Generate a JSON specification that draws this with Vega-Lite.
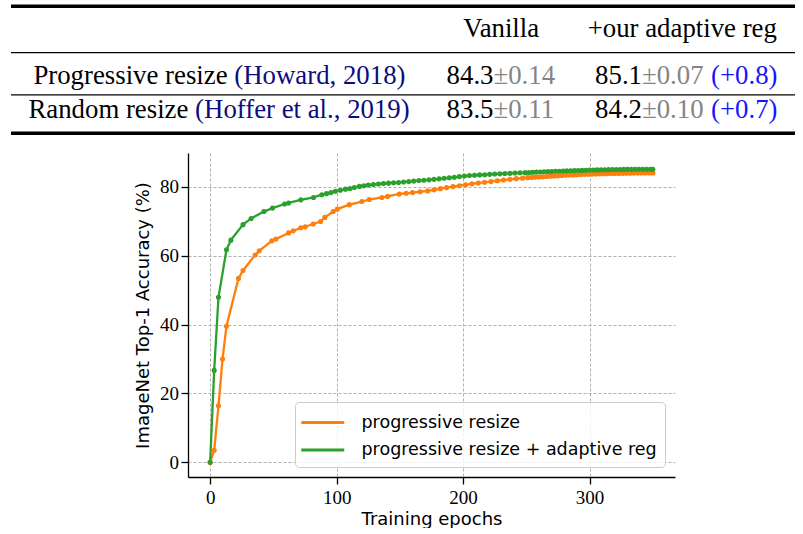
{
  "$schema": "https://vega.github.io/schema/vega-lite/v6.json",
  "background": "white",
  "padding": {"left": 9, "top": 0, "right": 10, "bottom": 0},
  "spacing": 12,
  "resolve": {"scale": {"color": "independent"}, "legend": {"color": "independent"}},
  "config": {"view": {"stroke": null}},
  "datasets": {
    "cells": [
      {"row": "header", "column": "Vanilla", "part": "header", "text": "Vanilla"},
      {"row": "header", "column": "+our adaptive reg", "part": "header", "text": "+our adaptive reg"},
      {"row": "Progressive", "column": "Method", "part": "value", "text": "Progressive resize"},
      {"row": "Progressive", "column": "Method", "part": "citation", "text": "(Howard, 2018)"},
      {"row": "Progressive", "column": "Vanilla", "part": "value", "text": "84.3"},
      {"row": "Progressive", "column": "Vanilla", "part": "std", "text": "±0.14"},
      {"row": "Progressive", "column": "+our adaptive reg", "part": "value", "text": "85.1"},
      {"row": "Progressive", "column": "+our adaptive reg", "part": "std", "text": "±0.07"},
      {"row": "Progressive", "column": "+our adaptive reg", "part": "gain", "text": "(+0.8)"},
      {"row": "Random", "column": "Method", "part": "value", "text": "Random resize"},
      {"row": "Random", "column": "Method", "part": "citation", "text": "(Hoffer et al., 2019)"},
      {"row": "Random", "column": "Vanilla", "part": "value", "text": "83.5"},
      {"row": "Random", "column": "Vanilla", "part": "std", "text": "±0.11"},
      {"row": "Random", "column": "+our adaptive reg", "part": "value", "text": "84.2"},
      {"row": "Random", "column": "+our adaptive reg", "part": "std", "text": "±0.10"},
      {"row": "Random", "column": "+our adaptive reg", "part": "gain", "text": "(+0.7)"}
    ],
    "rules": [
      {"row": "top", "weight": "thick"},
      {"row": "head", "weight": "thin"},
      {"row": "sep", "weight": "thin"},
      {"row": "bottom", "weight": "thick"}
    ],
    "curves": [
      {"run": "progressive resize", "epoch": 0, "accuracy": 0},
      {"run": "progressive resize", "epoch": 3.2, "accuracy": 3.5},
      {"run": "progressive resize", "epoch": 6.6, "accuracy": 16.4},
      {"run": "progressive resize", "epoch": 9.8, "accuracy": 30},
      {"run": "progressive resize", "epoch": 12.9, "accuracy": 39.5},
      {"run": "progressive resize", "epoch": 22.4, "accuracy": 53.4},
      {"run": "progressive resize", "epoch": 26, "accuracy": 55.7},
      {"run": "progressive resize", "epoch": 35.6, "accuracy": 60.2},
      {"run": "progressive resize", "epoch": 38.8, "accuracy": 61.4},
      {"run": "progressive resize", "epoch": 48.8, "accuracy": 64.3},
      {"run": "progressive resize", "epoch": 52, "accuracy": 64.8},
      {"run": "progressive resize", "epoch": 62, "accuracy": 66.6},
      {"run": "progressive resize", "epoch": 65.7, "accuracy": 67.2},
      {"run": "progressive resize", "epoch": 71.7, "accuracy": 68.1},
      {"run": "progressive resize", "epoch": 75.2, "accuracy": 68.4},
      {"run": "progressive resize", "epoch": 81.5, "accuracy": 69.2},
      {"run": "progressive resize", "epoch": 87.3, "accuracy": 69.9},
      {"run": "progressive resize", "epoch": 90.7, "accuracy": 71.1},
      {"run": "progressive resize", "epoch": 97.3, "accuracy": 72.8},
      {"run": "progressive resize", "epoch": 100.5, "accuracy": 73.5},
      {"run": "progressive resize", "epoch": 110, "accuracy": 74.8},
      {"run": "progressive resize", "epoch": 120, "accuracy": 75.7},
      {"run": "progressive resize", "epoch": 125.8, "accuracy": 76.3},
      {"run": "progressive resize", "epoch": 135.8, "accuracy": 76.9},
      {"run": "progressive resize", "epoch": 140.3, "accuracy": 77.2},
      {"run": "progressive resize", "epoch": 149.5, "accuracy": 77.9},
      {"run": "progressive resize", "epoch": 155, "accuracy": 78.1},
      {"run": "progressive resize", "epoch": 160, "accuracy": 78.3},
      {"run": "progressive resize", "epoch": 166, "accuracy": 78.55},
      {"run": "progressive resize", "epoch": 172, "accuracy": 78.8},
      {"run": "progressive resize", "epoch": 177, "accuracy": 79.1},
      {"run": "progressive resize", "epoch": 182, "accuracy": 79.45},
      {"run": "progressive resize", "epoch": 187, "accuracy": 79.75},
      {"run": "progressive resize", "epoch": 192, "accuracy": 80.05},
      {"run": "progressive resize", "epoch": 197, "accuracy": 80.3},
      {"run": "progressive resize", "epoch": 202, "accuracy": 80.6},
      {"run": "progressive resize", "epoch": 207, "accuracy": 80.85},
      {"run": "progressive resize", "epoch": 212, "accuracy": 81.1},
      {"run": "progressive resize", "epoch": 217, "accuracy": 81.3},
      {"run": "progressive resize", "epoch": 222, "accuracy": 81.5},
      {"run": "progressive resize", "epoch": 227, "accuracy": 81.75},
      {"run": "progressive resize", "epoch": 232, "accuracy": 81.95},
      {"run": "progressive resize", "epoch": 237, "accuracy": 82.15},
      {"run": "progressive resize", "epoch": 242, "accuracy": 82.35},
      {"run": "progressive resize", "epoch": 247, "accuracy": 82.5},
      {"run": "progressive resize", "epoch": 251, "accuracy": 82.65},
      {"run": "progressive resize", "epoch": 254, "accuracy": 82.72},
      {"run": "progressive resize", "epoch": 257, "accuracy": 82.8},
      {"run": "progressive resize", "epoch": 260, "accuracy": 82.85},
      {"run": "progressive resize", "epoch": 263, "accuracy": 82.9},
      {"run": "progressive resize", "epoch": 266, "accuracy": 83.0},
      {"run": "progressive resize", "epoch": 269, "accuracy": 83.08},
      {"run": "progressive resize", "epoch": 272, "accuracy": 83.15},
      {"run": "progressive resize", "epoch": 275, "accuracy": 83.2},
      {"run": "progressive resize", "epoch": 278, "accuracy": 83.28},
      {"run": "progressive resize", "epoch": 281, "accuracy": 83.33},
      {"run": "progressive resize", "epoch": 284, "accuracy": 83.4},
      {"run": "progressive resize", "epoch": 287, "accuracy": 83.45},
      {"run": "progressive resize", "epoch": 290, "accuracy": 83.5},
      {"run": "progressive resize", "epoch": 293, "accuracy": 83.55},
      {"run": "progressive resize", "epoch": 296, "accuracy": 83.6},
      {"run": "progressive resize", "epoch": 299, "accuracy": 83.64},
      {"run": "progressive resize", "epoch": 302, "accuracy": 83.68},
      {"run": "progressive resize", "epoch": 305, "accuracy": 83.72},
      {"run": "progressive resize", "epoch": 308, "accuracy": 83.75},
      {"run": "progressive resize", "epoch": 311, "accuracy": 83.78},
      {"run": "progressive resize", "epoch": 314, "accuracy": 83.8},
      {"run": "progressive resize", "epoch": 317, "accuracy": 83.83},
      {"run": "progressive resize", "epoch": 320, "accuracy": 83.85},
      {"run": "progressive resize", "epoch": 323, "accuracy": 83.88},
      {"run": "progressive resize", "epoch": 326, "accuracy": 83.9},
      {"run": "progressive resize", "epoch": 329, "accuracy": 83.92},
      {"run": "progressive resize", "epoch": 332, "accuracy": 83.94},
      {"run": "progressive resize", "epoch": 335, "accuracy": 83.96},
      {"run": "progressive resize", "epoch": 338, "accuracy": 83.97},
      {"run": "progressive resize", "epoch": 341, "accuracy": 83.98},
      {"run": "progressive resize", "epoch": 344, "accuracy": 84.0},
      {"run": "progressive resize", "epoch": 347, "accuracy": 84.0},
      {"run": "progressive resize", "epoch": 350, "accuracy": 84.02},
      {"run": "progressive resize + adaptive reg", "epoch": 0, "accuracy": 0},
      {"run": "progressive resize + adaptive reg", "epoch": 3.2, "accuracy": 26.7},
      {"run": "progressive resize + adaptive reg", "epoch": 6.6, "accuracy": 47.9},
      {"run": "progressive resize + adaptive reg", "epoch": 12.9, "accuracy": 61.7},
      {"run": "progressive resize + adaptive reg", "epoch": 16.4, "accuracy": 64.5},
      {"run": "progressive resize + adaptive reg", "epoch": 26, "accuracy": 69},
      {"run": "progressive resize + adaptive reg", "epoch": 32.4, "accuracy": 70.8},
      {"run": "progressive resize + adaptive reg", "epoch": 42.5, "accuracy": 72.8},
      {"run": "progressive resize + adaptive reg", "epoch": 49.3, "accuracy": 73.8},
      {"run": "progressive resize + adaptive reg", "epoch": 58.8, "accuracy": 75},
      {"run": "progressive resize + adaptive reg", "epoch": 62, "accuracy": 75.3},
      {"run": "progressive resize + adaptive reg", "epoch": 71.7, "accuracy": 76.2},
      {"run": "progressive resize + adaptive reg", "epoch": 81.7, "accuracy": 76.9},
      {"run": "progressive resize + adaptive reg", "epoch": 88.3, "accuracy": 77.7},
      {"run": "progressive resize + adaptive reg", "epoch": 92, "accuracy": 78.0},
      {"run": "progressive resize + adaptive reg", "epoch": 95.5, "accuracy": 78.3},
      {"run": "progressive resize + adaptive reg", "epoch": 99, "accuracy": 78.7},
      {"run": "progressive resize + adaptive reg", "epoch": 103, "accuracy": 79.0},
      {"run": "progressive resize + adaptive reg", "epoch": 107, "accuracy": 79.3},
      {"run": "progressive resize + adaptive reg", "epoch": 110.5, "accuracy": 79.5},
      {"run": "progressive resize + adaptive reg", "epoch": 114, "accuracy": 79.8},
      {"run": "progressive resize + adaptive reg", "epoch": 118, "accuracy": 80.1},
      {"run": "progressive resize + adaptive reg", "epoch": 121.5, "accuracy": 80.3},
      {"run": "progressive resize + adaptive reg", "epoch": 125, "accuracy": 80.5},
      {"run": "progressive resize + adaptive reg", "epoch": 129, "accuracy": 80.65},
      {"run": "progressive resize + adaptive reg", "epoch": 133, "accuracy": 80.8},
      {"run": "progressive resize + adaptive reg", "epoch": 137, "accuracy": 80.95},
      {"run": "progressive resize + adaptive reg", "epoch": 141, "accuracy": 81.05},
      {"run": "progressive resize + adaptive reg", "epoch": 145, "accuracy": 81.15},
      {"run": "progressive resize + adaptive reg", "epoch": 149, "accuracy": 81.25},
      {"run": "progressive resize + adaptive reg", "epoch": 153, "accuracy": 81.4},
      {"run": "progressive resize + adaptive reg", "epoch": 157, "accuracy": 81.5},
      {"run": "progressive resize + adaptive reg", "epoch": 161, "accuracy": 81.65},
      {"run": "progressive resize + adaptive reg", "epoch": 165, "accuracy": 81.8},
      {"run": "progressive resize + adaptive reg", "epoch": 169, "accuracy": 81.9},
      {"run": "progressive resize + adaptive reg", "epoch": 173, "accuracy": 82.0},
      {"run": "progressive resize + adaptive reg", "epoch": 177, "accuracy": 82.15},
      {"run": "progressive resize + adaptive reg", "epoch": 181, "accuracy": 82.3},
      {"run": "progressive resize + adaptive reg", "epoch": 185, "accuracy": 82.45},
      {"run": "progressive resize + adaptive reg", "epoch": 189, "accuracy": 82.6},
      {"run": "progressive resize + adaptive reg", "epoch": 193, "accuracy": 82.75},
      {"run": "progressive resize + adaptive reg", "epoch": 197, "accuracy": 82.95},
      {"run": "progressive resize + adaptive reg", "epoch": 201, "accuracy": 83.1},
      {"run": "progressive resize + adaptive reg", "epoch": 205, "accuracy": 83.25},
      {"run": "progressive resize + adaptive reg", "epoch": 209, "accuracy": 83.35},
      {"run": "progressive resize + adaptive reg", "epoch": 213, "accuracy": 83.45},
      {"run": "progressive resize + adaptive reg", "epoch": 217, "accuracy": 83.5},
      {"run": "progressive resize + adaptive reg", "epoch": 221, "accuracy": 83.6},
      {"run": "progressive resize + adaptive reg", "epoch": 225, "accuracy": 83.7},
      {"run": "progressive resize + adaptive reg", "epoch": 229, "accuracy": 83.75},
      {"run": "progressive resize + adaptive reg", "epoch": 233, "accuracy": 83.85},
      {"run": "progressive resize + adaptive reg", "epoch": 237, "accuracy": 83.9},
      {"run": "progressive resize + adaptive reg", "epoch": 241, "accuracy": 84.0},
      {"run": "progressive resize + adaptive reg", "epoch": 245, "accuracy": 84.05},
      {"run": "progressive resize + adaptive reg", "epoch": 249, "accuracy": 84.1},
      {"run": "progressive resize + adaptive reg", "epoch": 252, "accuracy": 84.15},
      {"run": "progressive resize + adaptive reg", "epoch": 255, "accuracy": 84.2},
      {"run": "progressive resize + adaptive reg", "epoch": 258, "accuracy": 84.25},
      {"run": "progressive resize + adaptive reg", "epoch": 261, "accuracy": 84.3},
      {"run": "progressive resize + adaptive reg", "epoch": 264, "accuracy": 84.35},
      {"run": "progressive resize + adaptive reg", "epoch": 267, "accuracy": 84.4},
      {"run": "progressive resize + adaptive reg", "epoch": 270, "accuracy": 84.45},
      {"run": "progressive resize + adaptive reg", "epoch": 273, "accuracy": 84.5},
      {"run": "progressive resize + adaptive reg", "epoch": 276, "accuracy": 84.52},
      {"run": "progressive resize + adaptive reg", "epoch": 279, "accuracy": 84.55},
      {"run": "progressive resize + adaptive reg", "epoch": 282, "accuracy": 84.6},
      {"run": "progressive resize + adaptive reg", "epoch": 285, "accuracy": 84.65},
      {"run": "progressive resize + adaptive reg", "epoch": 288, "accuracy": 84.68},
      {"run": "progressive resize + adaptive reg", "epoch": 291, "accuracy": 84.72},
      {"run": "progressive resize + adaptive reg", "epoch": 294, "accuracy": 84.75},
      {"run": "progressive resize + adaptive reg", "epoch": 297, "accuracy": 84.8},
      {"run": "progressive resize + adaptive reg", "epoch": 300, "accuracy": 84.85},
      {"run": "progressive resize + adaptive reg", "epoch": 303, "accuracy": 84.88},
      {"run": "progressive resize + adaptive reg", "epoch": 306, "accuracy": 84.9},
      {"run": "progressive resize + adaptive reg", "epoch": 309, "accuracy": 84.93},
      {"run": "progressive resize + adaptive reg", "epoch": 312, "accuracy": 84.95},
      {"run": "progressive resize + adaptive reg", "epoch": 315, "accuracy": 84.97},
      {"run": "progressive resize + adaptive reg", "epoch": 318, "accuracy": 85.0},
      {"run": "progressive resize + adaptive reg", "epoch": 321, "accuracy": 85.0},
      {"run": "progressive resize + adaptive reg", "epoch": 324, "accuracy": 85.02},
      {"run": "progressive resize + adaptive reg", "epoch": 327, "accuracy": 85.04},
      {"run": "progressive resize + adaptive reg", "epoch": 330, "accuracy": 85.05},
      {"run": "progressive resize + adaptive reg", "epoch": 333, "accuracy": 85.06},
      {"run": "progressive resize + adaptive reg", "epoch": 336, "accuracy": 85.07},
      {"run": "progressive resize + adaptive reg", "epoch": 339, "accuracy": 85.08},
      {"run": "progressive resize + adaptive reg", "epoch": 342, "accuracy": 85.09},
      {"run": "progressive resize + adaptive reg", "epoch": 345, "accuracy": 85.1},
      {"run": "progressive resize + adaptive reg", "epoch": 348, "accuracy": 85.1},
      {"run": "progressive resize + adaptive reg", "epoch": 350, "accuracy": 85.1}
    ]
  },
  "vconcat": [
    {
      "width": 784,
      "height": 140,
      "data": {"name": "cells"},
      "encoding": {
        "x": {"field": "column", "type": "nominal", "axis": null,
              "scale": {"type": "point", "domain": ["Method", "Vanilla", "+our adaptive reg"], "range": [334, 631], "padding": 0}},
        "y": {"field": "row", "type": "nominal", "axis": null,
              "scale": {"type": "point", "domain": ["top", "header", "head", "Progressive", "sep", "Random", "bottom"], "range": [6.3, 133.3], "padding": 0}},
        "text": {"field": "text"},
        "color": {"field": "part", "type": "nominal", "legend": null,
                  "scale": {"domain": ["header", "value", "citation", "std", "gain"], "range": ["#000000", "#000000", "#0c0c80", "#858585", "#1515ff"]}}
      },
      "layer": [
        {
          "data": {"name": "rules"},
          "transform": [{"filter": "datum.weight === 'thick'"}],
          "mark": {"type": "rule", "color": "black", "strokeWidth": 3.5},
          "encoding": {"x": null, "text": null, "color": null}
        },
        {
          "data": {"name": "rules"},
          "transform": [{"filter": "datum.weight === 'thin'"}],
          "mark": {"type": "rule", "color": "black", "strokeWidth": 1.3, "yOffset": 4},
          "encoding": {"x": null, "text": null, "color": null}
        },
        {
          "transform": [{"filter": "datum.row === 'header' && datum.column === 'Vanilla'"}],
          "mark": {"type": "text", "font": "Liberation Serif", "fontSize": 26.8, "align": "center", "baseline": "alphabetic", "dx": 7.7, "dy": 9.8}
        },
        {
          "transform": [{"filter": "datum.row === 'header' && datum.column === '+our adaptive reg'"}],
          "mark": {"type": "text", "font": "Liberation Serif", "fontSize": 26.8, "align": "center", "baseline": "alphabetic", "dx": 40.3, "dy": 9.8}
        },
        {
          "transform": [{"filter": "datum.row === 'Progressive' && datum.column === 'Method' && datum.part === 'value'"}],
          "mark": {"type": "text", "font": "Liberation Serif", "fontSize": 26.8, "align": "right", "baseline": "alphabetic", "dx": -117.4, "dy": 14.2}
        },
        {
          "transform": [{"filter": "datum.row === 'Progressive' && datum.part === 'citation'"}],
          "mark": {"type": "text", "font": "Liberation Serif", "fontSize": 26.8, "align": "left", "baseline": "alphabetic", "dx": -110.7, "dy": 14.2}
        },
        {
          "transform": [{"filter": "datum.row === 'Progressive' && datum.column !== 'Method' && datum.part === 'value'"}],
          "mark": {"type": "text", "font": "Liberation Serif", "fontSize": 26.8, "align": "right", "baseline": "alphabetic", "dy": 14.2}
        },
        {
          "transform": [{"filter": "datum.row === 'Progressive' && datum.part === 'std'"}],
          "mark": {"type": "text", "font": "Liberation Serif", "fontSize": 26.8, "align": "left", "baseline": "alphabetic", "dy": 14.2}
        },
        {
          "transform": [{"filter": "datum.row === 'Progressive' && datum.part === 'gain'"}],
          "mark": {"type": "text", "font": "Liberation Serif", "fontSize": 26.8, "align": "left", "baseline": "alphabetic", "dx": 69, "dy": 14.2}
        },
        {
          "transform": [{"filter": "datum.row === 'Random' && datum.column === 'Method' && datum.part === 'value'"}],
          "mark": {"type": "text", "font": "Liberation Serif", "fontSize": 26.8, "align": "right", "baseline": "alphabetic", "dx": -156.6, "dy": 6.2}
        },
        {
          "transform": [{"filter": "datum.row === 'Random' && datum.part === 'citation'"}],
          "mark": {"type": "text", "font": "Liberation Serif", "fontSize": 26.8, "align": "left", "baseline": "alphabetic", "dx": -149.9, "dy": 6.2}
        },
        {
          "transform": [{"filter": "datum.row === 'Random' && datum.column !== 'Method' && datum.part === 'value'"}],
          "mark": {"type": "text", "font": "Liberation Serif", "fontSize": 26.8, "align": "right", "baseline": "alphabetic", "dy": 6.2}
        },
        {
          "transform": [{"filter": "datum.row === 'Random' && datum.part === 'std'"}],
          "mark": {"type": "text", "font": "Liberation Serif", "fontSize": 26.8, "align": "left", "baseline": "alphabetic", "dy": 6.2}
        },
        {
          "transform": [{"filter": "datum.row === 'Random' && datum.part === 'gain'"}],
          "mark": {"type": "text", "font": "Liberation Serif", "fontSize": 26.8, "align": "left", "baseline": "alphabetic", "dx": 69, "dy": 6.2}
        }
      ]
    },
    {
      "spacing": 0,
      "resolve": {"scale": {"color": "independent"}, "legend": {"color": "independent"}},
      "hconcat": [
        {
          "width": 123,
          "height": 10,
          "data": {"values": [{"blank": ""}]},
          "mark": {"type": "text"},
          "encoding": {"text": {"field": "blank"}}
        },
        {
          "width": 487,
          "height": 324,
          "data": {"name": "curves"},
          "encoding": {
            "x": {"field": "epoch", "type": "quantitative",
                  "scale": {"domain": [-17.5, 367.5], "nice": false, "zero": false},
                  "axis": {"values": [0, 100, 200, 300], "format": "d", "title": "Training epochs",
                           "grid": true, "gridDash": [3, 2], "gridColor": "#b0b0b0", "gridWidth": 1,
                           "domainColor": "black", "domainWidth": 1.3, "tickColor": "black", "tickWidth": 1.3, "tickSize": 7,
                           "labelFont": "Liberation Serif", "labelFontSize": 19, "labelColor": "black", "labelPadding": 4,
                           "titleFont": "DejaVu Sans", "titleFontSize": 18, "titleFontWeight": "normal", "titleColor": "black", "titlePadding": 3}},
            "y": {"field": "accuracy", "type": "quantitative",
                  "scale": {"domain": [-4.25, 89.8], "nice": false, "zero": false},
                  "axis": {"values": [0, 20, 40, 60, 80], "format": "d", "title": "ImageNet Top-1 Accuracy (%)",
                           "grid": true, "gridDash": [3, 2], "gridColor": "#b0b0b0", "gridWidth": 1,
                           "domainColor": "black", "domainWidth": 1.3, "tickColor": "black", "tickWidth": 1.3, "tickSize": 7,
                           "labelFont": "Liberation Serif", "labelFontSize": 19, "labelColor": "black", "labelPadding": 2.5,
                           "titleFont": "DejaVu Sans", "titleFontSize": 18, "titleFontWeight": "normal", "titleColor": "black", "titlePadding": 7}}
          },
          "layer": [
            {
              "mark": {"type": "line", "strokeWidth": 2.3},
              "encoding": {
                "color": {"field": "run", "type": "nominal",
                          "scale": {"domain": ["progressive resize", "progressive resize + adaptive reg"], "range": ["#ff7f0e", "#2ca02c"]},
                          "legend": {"orient": "bottom-right", "offset": 10, "title": null, "symbolType": "M-2,0H2", "symbolSize": 462,
                                     "symbolStrokeWidth": 3, "symbolOffset": 7.25, "labelFont": "DejaVu Sans", "labelFontSize": 17.5, "labelColor": "black",
                                     "labelOffset": 26.25, "rowPadding": 6.5, "padding": 8, "fillColor": "rgba(255,255,255,0.8)",
                                     "strokeColor": "#cccccc", "cornerRadius": 4, "labelLimit": 400}}
              }
            },
            {
              "mark": {"type": "circle", "size": 26, "opacity": 1},
              "encoding": {"color": {"field": "run", "type": "nominal", "legend": null}}
            }
          ]
        }
      ]
    }
  ]
}
